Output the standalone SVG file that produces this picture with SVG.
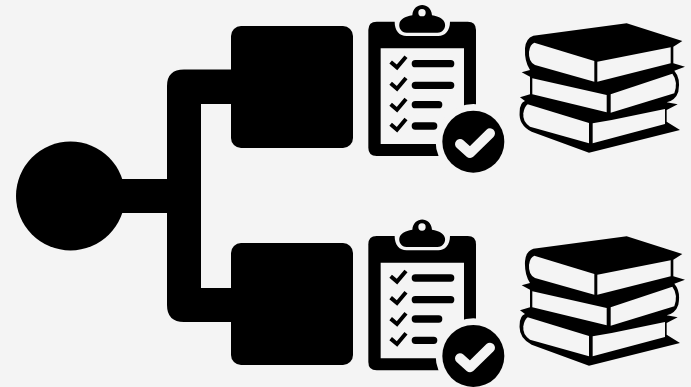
<svg xmlns="http://www.w3.org/2000/svg" width="691" height="387" viewBox="0 0 691 387">
<style>
.k{fill:#000}.p{fill:#f4f4f4}
.s{fill:none;stroke:#000;stroke-width:22;stroke-linecap:round}
.t{fill:none;stroke:#000;stroke-width:12;stroke-linecap:butt;stroke-linejoin:miter}
</style>
<defs>
<g id="clip">
<path class="k" d="M50 65H323Q348 65 348 90V443Q348 468 323 468H50Q25 468 25 443V90Q25 65 50 65Z"/>
<path class="p" d="M62 145H312V432H62Z"/>
<path class="p" d="M104 65C104 50 115 38 142 36C148 5 225 5 231 36C258 38 270 50 270 65C270 92 255 108 235 108H140C118 108 104 92 104 65Z"/>
<path class="k" d="M140 98C124 98 116 84 118 72C120 58 135 50 157 46C160 5 213 5 216 46C238 50 253 58 255 72C257 84 249 98 232 98Z"/>
<circle class="p" cx="186" cy="38" r="11"/>
<path class="t" d="M92 186L111 202L138 170M92 250L111 266L138 234M92 313L111 329L138 297M92 373L111 389L138 357"/>
<path class="s" d="M166 191H272M166 256H272M166 314H236M166 378H221"/>
<circle class="p" cx="340" cy="425" r="113"/>
<circle class="k" cx="340" cy="425" r="93"/>
<path d="M300 432L330 459L390 400" fill="none" stroke="#f4f4f4" stroke-width="30" stroke-linecap="round" stroke-linejoin="round"/>
</g>
<g id="books">
<path class="k" d="M55 62L335 25L502 78L475 95V145L510 155L478 167Q498 190 490 230Q482 255 455 262L488 268L455 285V320L495 345L222 413L50 350Q10 330 14 290Q15 262 30 258L15 247L45 238V185L20 172L45 165Q28 140 30 100Q32 70 55 62Z"/>
<path class="p" d="M58 83L238 138V200L60 150Q40 140 42 110Q45 88 58 83Z"/>
<path class="p" d="M247 140L467 97V145L247 200Z"/>
<path class="p" d="M52 190L275 240V292L52 238Z"/>
<path class="p" d="M287 238L472 176Q490 200 478 235L287 293Z"/>
<path class="p" d="M38 268L222 324V385L45 335Q22 320 25 295Q28 275 38 268Z"/>
<path class="p" d="M233 325L290 315L450 282V327L233 385Z"/>
</g>
</defs>
<rect width="691" height="387" fill="#f4f4f4"/>
<g id="connectors">
<path class="k" d="M100 179H167V86Q167 69.500 184 69.500H240V104H201V288H240V322H184Q167 322 167 305V213H100Z"/>
</g>
<g id="root"><circle class="k" cx="70.500" cy="196" r="54.500"/></g>
<g id="box-top"><rect class="k" x="231" y="26" width="122" height="122" rx="10"/></g>
<g id="box-bottom"><rect class="k" x="231" y="243" width="122" height="122" rx="10"/></g>
<g id="clipboard-top"><use href="#clip" transform="translate(360 0) scale(.33333)"/></g>
<g id="clipboard-bottom"><use href="#clip" transform="translate(360 214.300) scale(.33333)"/></g>
<g id="books-top"><use href="#books" transform="translate(515 15) scale(.33333)"/></g>
<g id="books-bottom"><use href="#books" transform="translate(515 228) scale(.33333)"/></g>
</svg>
